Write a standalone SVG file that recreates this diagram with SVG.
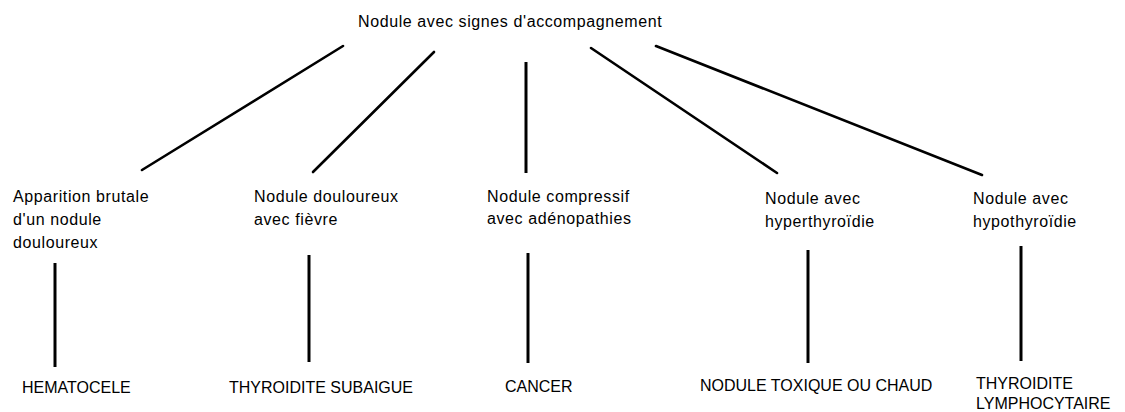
<svg xmlns="http://www.w3.org/2000/svg" width="1125" height="412" viewBox="0 0 1125 412">
<style>
  text { font-family: "Liberation Sans", Arial, sans-serif; font-size: 16px; fill: #000; }
  .lc { letter-spacing: 0.6px; }
  .uc { letter-spacing: 0px; }
  .diag { stroke: #000; stroke-width: 2.6; stroke-linecap: round; fill: none; }
  .vert { stroke: #000; stroke-width: 3; fill: none; }
</style>
<rect width="1125" height="412" fill="#fff"/>
<g id="connectors">
  <line class="diag" x1="343" y1="46" x2="142" y2="170"/>
  <line class="diag" x1="434" y1="52" x2="313" y2="172"/>
  <line class="vert" x1="526" y1="62" x2="526" y2="173"/>
  <line class="diag" x1="591" y1="48" x2="777" y2="173"/>
  <line class="diag" x1="656" y1="46" x2="982" y2="175"/>
  <line class="vert" x1="55" y1="263" x2="55" y2="367"/>
  <line class="vert" x1="309" y1="255" x2="309" y2="362"/>
  <line class="vert" x1="528" y1="253" x2="528" y2="363"/>
  <line class="vert" x1="808" y1="250" x2="808" y2="363"/>
  <line class="vert" x1="1021" y1="246" x2="1021" y2="361"/>
</g>
<g id="root"><text class="lc" x="358" y="27">Nodule avec signes d'accompagnement</text></g>
<g id="n1"><text class="lc" x="13" y="202">Apparition brutale</text><text class="lc" x="13" y="225">d'un nodule</text><text class="lc" x="13" y="248">douloureux</text></g>
<g id="n2"><text class="lc" x="254" y="202">Nodule douloureux</text><text class="lc" x="254" y="225">avec fièvre</text></g>
<g id="n3"><text class="lc" x="487" y="202">Nodule compressif</text><text class="lc" x="487" y="224">avec adénopathies</text></g>
<g id="n4"><text class="lc" x="765" y="204">Nodule avec</text><text class="lc" x="765" y="227">hyperthyroïdie</text></g>
<g id="n5"><text class="lc" x="973" y="204">Nodule avec</text><text class="lc" x="973" y="227">hypothyroïdie</text></g>
<g id="r1"><text class="uc" x="22" y="393">HEMATOCELE</text></g>
<g id="r2"><text class="uc" x="229" y="393">THYROIDITE SUBAIGUE</text></g>
<g id="r3"><text class="uc" x="505" y="392">CANCER</text></g>
<g id="r4"><text class="uc" x="700" y="391">NODULE TOXIQUE OU CHAUD</text></g>
<g id="r5"><text class="uc" x="976" y="389">THYROIDITE</text><text class="uc" x="976" y="409">LYMPHOCYTAIRE</text></g>
</svg>
